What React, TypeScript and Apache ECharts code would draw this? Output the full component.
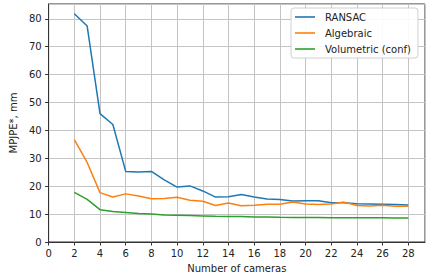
import React, { useEffect, useRef } from "react";
import * as echarts from "echarts";

const cameras = [2, 3, 4, 5, 6, 7, 8, 9, 10, 11, 12, 13, 14, 15, 16, 17, 18, 19, 20, 21, 22, 23, 24, 25, 26, 27, 28];
const ransac = [81.8, 77.4, 46.0, 42.1, 25.3, 25.1, 25.3, 22.3, 19.7, 20.1, 18.3, 16.1, 16.2, 17.0, 16.1, 15.4, 15.2, 14.7, 14.8, 14.8, 14.1, 14.1, 13.7, 13.6, 13.5, 13.4, 13.3];
const algebraic = [36.7, 28.5, 17.7, 16.1, 17.25, 16.5, 15.5, 15.6, 16.0, 15.0, 14.6, 13.1, 14.0, 13.0, 13.2, 13.5, 13.5, 14.3, 13.6, 13.4, 13.6, 14.3, 13.1, 12.9, 13.2, 12.8, 12.8];
const volumetric = [17.8, 15.3, 11.6, 10.9, 10.6, 10.2, 10.0, 9.7, 9.6, 9.5, 9.35, 9.2, 9.15, 9.1, 9.0, 8.95, 8.85, 8.8, 8.8, 8.75, 8.7, 8.7, 8.7, 8.65, 8.65, 8.6, 8.6];
const seriesNames = ["RANSAC", "Algebraic", "Volumetric (conf)"];
const colors = ["#1f77b4", "#ff7f0e", "#2ca02c"];
const xLabel = "Number of cameras";
const yLabel = "MPJPE*, mm";

const FONT = "DejaVu Sans";

export default function App() {
  const ref = useRef<HTMLDivElement>(null);
  useEffect(() => {
    if (!ref.current) return;
    const chart = echarts.init(ref.current, undefined, { renderer: "svg" });
    const all = [ransac, algebraic, volumetric];
    chart.setOption({
      animation: false,
      grid: {
        left: 35,
        top: 4,
        right: 4,
        bottom: 32,
        show: true,
        borderColor: "#333",
        borderWidth: 1,
      },
      legend: {
        orient: "vertical",
        left: 291,
        top: 8,
        padding: [2, 7, 2, 4],
        icon: "rect",
        itemWidth: 20,
        itemHeight: 1.6,
        itemGap: 2,
        backgroundColor: "rgba(255,255,255,0.9)",
        borderColor: "#d0d0d0",
        borderWidth: 1,
        borderRadius: 3,
        textStyle: { fontFamily: FONT, fontSize: 10, color: "#222", lineHeight: 14, padding: [0, 0, 0, 5] },
        data: seriesNames,
      },
      xAxis: {
        type: "value",
        min: 0,
        max: 29.3,
        interval: 2,
        name: xLabel,
        nameLocation: "middle",
        nameGap: 21,
        nameTextStyle: { fontFamily: FONT, fontSize: 10, color: "#222" },
        axisLine: { show: true, lineStyle: { color: "#333", width: 1 } },
        axisTick: { show: true, length: 3.5, lineStyle: { color: "#333" } },
        axisLabel: { fontFamily: FONT, fontSize: 10, color: "#222", margin: 6, showMaxLabel: false },
        splitLine: { show: true, lineStyle: { color: "#c4c4c4", width: 1 } },
      },
      yAxis: {
        type: "value",
        min: 0,
        max: 85.3,
        interval: 10,
        name: yLabel,
        nameLocation: "middle",
        nameGap: 27,
        nameRotate: 90,
        nameTextStyle: { fontFamily: FONT, fontSize: 10, color: "#222" },
        axisLine: { show: true, lineStyle: { color: "#333", width: 1 } },
        axisTick: { show: true, length: 3.5, lineStyle: { color: "#333" } },
        axisLabel: { fontFamily: FONT, fontSize: 10, color: "#222", margin: 7, showMaxLabel: false },
        splitLine: { show: true, lineStyle: { color: "#c4c4c4", width: 1 } },
      },
      series: seriesNames.map((name, i) => ({
        name,
        type: "line",
        symbol: "none",
        color: colors[i],
        itemStyle: { color: colors[i] },
        lineStyle: { color: colors[i], width: 1.5 },
        data: cameras.map((c, j) => [c, all[i][j]]),
      })),
    });
    return () => chart.dispose();
  }, []);
  return (
    <div
      ref={ref}
      style={{ position: "absolute", left: 0, top: 0, width: 429, height: 278 }}
    />
  );
}
